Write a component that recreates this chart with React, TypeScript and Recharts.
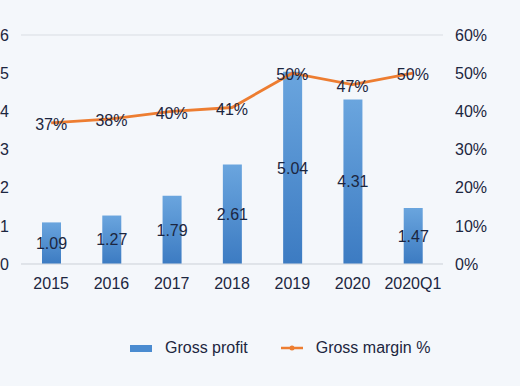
import React from "react";
import {
  ComposedChart,
  Bar,
  Line,
  XAxis,
  YAxis,
  CartesianGrid,
  Legend,
  LabelList,
} from "recharts";

const categories = ["2015", "2016", "2017", "2018", "2019", "2020", "2020Q1"];
const grossProfit = [1.09, 1.27, 1.79, 2.61, 5.04, 4.31, 1.47];
const grossMargin = [37, 38, 40, 41, 50, 47, 50];
const leftTicks = [0, 1, 2, 3, 4, 5, 6];
const rightTicks = [0, 10, 20, 30, 40, 50, 60];

const data = categories.map((c, i) => ({
  name: c,
  profit: grossProfit[i],
  margin: grossMargin[i],
}));

const TEXT = "#1c2640";
const FONT = "'Liberation Sans', Arial, sans-serif";
const FS = 16;

const MarginLabel = (props: any) => {
  const { x, y, value } = props;
  return (
    <text
      x={x}
      y={y + 3}
      textAnchor="middle"
      dominantBaseline="middle"
      fill={TEXT}
      fontSize={FS}
      fontFamily={FONT}
    >
      {value}%
    </text>
  );
};

const LegendContent = () => (
  <div
    style={{
      height: 24,
      display: "flex",
      alignItems: "center",
      justifyContent: "flex-start",
      paddingLeft: 130,
      fontFamily: FONT,
      fontSize: FS,
      color: TEXT,
    }}
  >
    <svg width={22} height={10}>
      <rect x={0} y={2} width={22} height={7} fill="#4a8bd0" />
    </svg>
    <span style={{ marginLeft: 13 }}>Gross profit</span>
    <svg width={22} height={10} style={{ marginLeft: 33 }}>
      <line x1={0} y1={5} x2={22} y2={5} stroke="#ed7d31" strokeWidth={2.5} />
      <circle cx={11} cy={5} r={2.5} fill="#ed7d31" />
    </svg>
    <span style={{ marginLeft: 13 }}>Gross margin %</span>
  </div>
);

export default function App() {
  return (
    <div
      style={{
        position: "absolute",
        left: 0,
        top: 0,
        width: 520,
        height: 386,
        background: "#f4f7fb",
      }}
    >
      <ComposedChart
        width={520}
        height={386}
        data={data}
        margin={{ top: 35, right: 0, bottom: 68, left: 0 }}
      >
        <defs>
          <linearGradient id="barGrad" x1="0" y1="0" x2="0" y2="1">
            <stop offset="0%" stopColor="#6aa5de" />
            <stop offset="100%" stopColor="#3c7bc2" />
          </linearGradient>
        </defs>
        <CartesianGrid vertical={false} stroke="#d9dde3" />
        <XAxis
          dataKey="name"
          height={30}
          tickLine={false}
          axisLine={{ stroke: "#d9dde3" }}
          tick={{ fill: TEXT, fontSize: FS, fontFamily: FONT }}
          tickMargin={8}
        />
        <YAxis
          yAxisId="left"
          width={21}
          domain={[0, 6]}
          ticks={leftTicks}
          tickLine={false}
          axisLine={false}
          tickMargin={6}
          tick={{ fill: TEXT, fontSize: FS, fontFamily: FONT }}
        />
        <YAxis
          yAxisId="right"
          orientation="right"
          width={77}
          domain={[0, 60]}
          ticks={rightTicks}
          tickFormatter={(v: number) => `${v}%`}
          tickLine={false}
          axisLine={false}
          tickMargin={6}
          tick={{ fill: TEXT, fontSize: FS, fontFamily: FONT, textAnchor: "start" }}
        />
        <Legend
          verticalAlign="bottom"
          content={<LegendContent />}
          wrapperStyle={{ top: 336, bottom: "auto", left: 0, width: 520 }}
        />
        <Bar
          yAxisId="left"
          dataKey="profit"
          name="Gross profit"
          fill="url(#barGrad)"
          barSize={19}
          isAnimationActive={false}
        >
          <LabelList
            dataKey="profit"
            position="center"
            fill={TEXT}
            fontSize={FS}
            fontFamily={FONT}
            formatter={(v: number) => v.toFixed(2)}
          />
        </Bar>
        <Line
          yAxisId="right"
          dataKey="margin"
          name="Gross margin %"
          stroke="#ed7d31"
          strokeWidth={2.8}
          dot={false}
          isAnimationActive={false}
        >
          <LabelList dataKey="margin" content={<MarginLabel />} />
        </Line>
      </ComposedChart>
    </div>
  );
}
